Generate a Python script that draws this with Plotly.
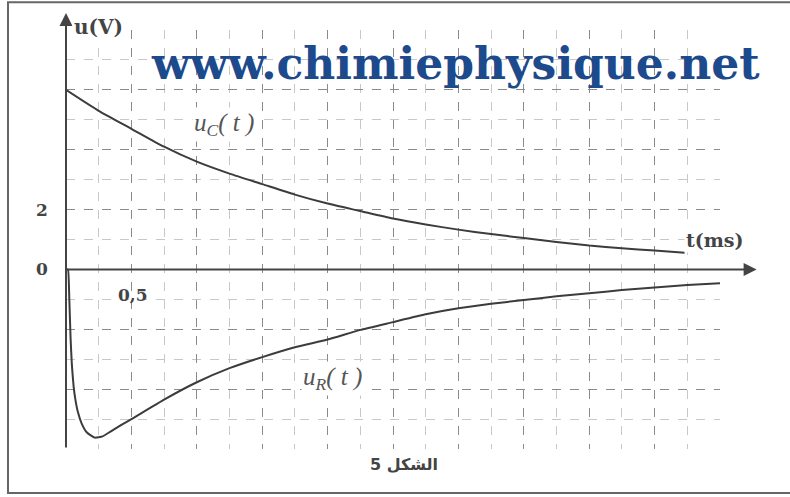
import plotly.graph_objects as go

# values (t in ms, u in V)
t_c = [0, 0.25, 0.5, 0.75, 1.0, 1.25, 1.5, 1.75, 2.0, 2.25, 2.5, 2.75, 3.0,
       3.25, 3.5, 3.75, 4.0, 4.25, 4.5, 4.73]
u_c = [6.0, 5.3, 4.7, 4.1, 3.6, 3.2, 2.85, 2.5, 2.2, 1.95, 1.7, 1.5, 1.33,
       1.18, 1.05, 0.92, 0.8, 0.71, 0.63, 0.56]

t_r = [0, 0.015, 0.025, 0.035, 0.045, 0.058, 0.07, 0.09, 0.12, 0.16, 0.22,
       0.28, 0.34, 0.42, 0.5, 0.75, 1.0, 1.25, 1.5, 1.75, 2.0, 2.25, 2.5,
       2.75, 3.0, 3.25, 3.5, 3.75, 4.0, 4.25, 4.5, 4.75, 5.0]
u_r = [0, 0, -0.95, -2.3, -3.2, -3.9, -4.3, -4.75, -5.15, -5.45, -5.62,
       -5.58, -5.42, -5.2, -5.0, -4.35, -3.77, -3.3, -2.93, -2.6, -2.34,
       -2.02, -1.76, -1.5, -1.3, -1.15, -1.02, -0.9, -0.8, -0.69, -0.6,
       -0.52, -0.46]

x_range = [0, 5]
y_range = [-6, 8]
curve_color = '#3c3c3c'
serif = 'DejaVu Serif'

fig = go.Figure()
fig.add_trace(go.Scatter(x=t_c, y=u_c, mode='lines',
                         line=dict(color=curve_color, width=2, shape='spline', smoothing=0.6),
                         showlegend=False, hoverinfo='skip'))
fig.add_trace(go.Scatter(x=t_r, y=u_r, mode='lines',
                         line=dict(color=curve_color, width=2, shape='spline', smoothing=0.4),
                         showlegend=False, hoverinfo='skip'))

# axes with arrows
fig.add_annotation(x=5.28, y=0, ax=0, ay=0, xref='x', yref='y', axref='x', ayref='y',
                   text='', showarrow=True, arrowhead=2, arrowsize=1.3,
                   arrowwidth=2, arrowcolor='#444')
fig.add_annotation(x=0, y=8.57, ax=0, ay=-6, xref='x', yref='y', axref='x', ayref='y',
                   text='', showarrow=True, arrowhead=2, arrowsize=1.3,
                   arrowwidth=2, arrowcolor='#444')

lab = dict(family=serif, size=17, color='#444')
fig.add_annotation(x=0.009, y=1.007, xref='paper', yref='paper', text='<b>u(V)</b>',
                   showarrow=False, xanchor='left', yanchor='middle',
                   font=dict(family=serif, size=20, color='#444'), bgcolor='white')
fig.add_annotation(x=-0.037, y=2, xref='paper', yref='y', text='<b>2</b>',
                   showarrow=False, xanchor='center', yanchor='middle', font=lab)
fig.add_annotation(x=-0.037, y=0, xref='paper', yref='y', text='<b>0</b>',
                   showarrow=False, xanchor='center', yanchor='middle', font=lab)
fig.add_annotation(x=0.51, y=-0.85, xref='x', yref='y', text='<b>0,5</b>',
                   showarrow=False, xanchor='center', yanchor='middle', font=lab)
fig.add_annotation(x=4.96, y=1.0, xref='x', yref='y', text='<b>t(ms)</b>',
                   showarrow=False, xanchor='center', yanchor='middle',
                   font=dict(family=serif, size=19, color='#444'), bgcolor='white')
fig.add_annotation(x=1.21, y=4.85, xref='x', yref='y', text='<i>u<sub>C</sub>( t )</i>',
                   showarrow=False, xanchor='center', yanchor='middle',
                   font=dict(family='Liberation Serif', size=25, color='#555'),
                   bgcolor='white')
fig.add_annotation(x=2.04, y=-3.65, xref='x', yref='y', text='<i>u<sub>R</sub>( t )</i>',
                   showarrow=False, xanchor='center', yanchor='middle',
                   font=dict(family='Liberation Serif', size=25, color='#555'),
                   bgcolor='white')
fig.add_annotation(x=0.517, y=-0.038, xref='paper', yref='paper', text='<b>الشكل 5</b>',
                   showarrow=False, xanchor='center', yanchor='middle',
                   font=dict(family='DejaVu Sans', size=16, color='#444'))

# watermark
fig.add_annotation(x=0.595, y=0.919, xref='paper', yref='paper',
                   text='<b>www.chimiephysique.net</b>', showarrow=False,
                   xanchor='center', yanchor='middle',
                   font=dict(family=serif, size=44, color='#1c4a8c'))

# outer frame (left, top, bottom; the right side is cut off in the scan)
fig.add_shape(type='path', xref='paper', yref='paper',
              path='M 1.2,1.066 L -0.0887,1.066 L -0.0887,-0.105 L 1.2,-0.105',
              line=dict(color='#666', width=2))

fig.update_xaxes(range=x_range, dtick=0.5, tick0=0, showgrid=True,
                 gridcolor='#8a8a8a', griddash='dash', gridwidth=1,
                 minor=dict(dtick=0.25, showgrid=True, gridcolor='#c8c8c8', griddash='dash'),
                 showticklabels=False, zeroline=False, showline=False, ticks='')
fig.update_yaxes(range=y_range, dtick=2, tick0=0, showgrid=True,
                 gridcolor='#8a8a8a', griddash='dash', gridwidth=1,
                 minor=dict(dtick=1, showgrid=True, gridcolor='#c8c8c8', griddash='dash'),
                 showticklabels=False, zeroline=False, showline=False, ticks='')

fig.update_layout(width=790, height=497,
                  margin=dict(l=66, r=70, t=30, b=48),
                  paper_bgcolor='white', plot_bgcolor='white')

# drop the browser's default page margin so the figure sits at the top-left
fig.write_html("out.html", config={'displayModeBar': False},
               post_script="document.body.style.margin='0';")
